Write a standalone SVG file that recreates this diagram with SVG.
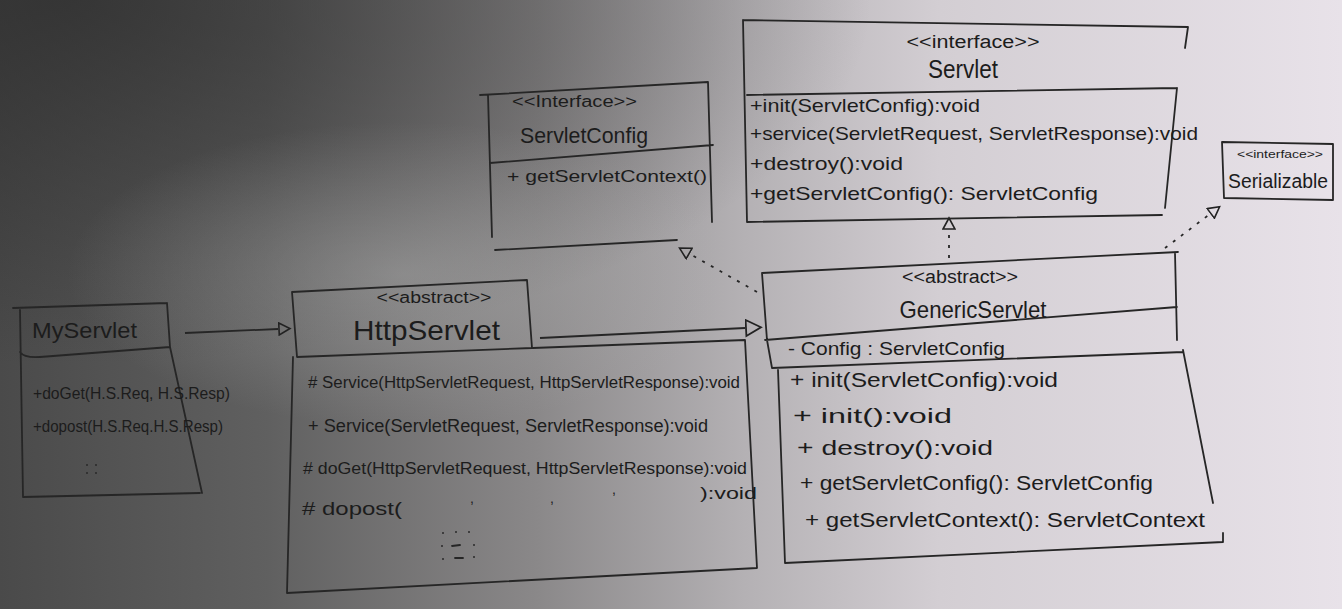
<svg xmlns="http://www.w3.org/2000/svg" width="1342" height="609" viewBox="0 0 1342 609">
<defs>
<linearGradient id="bg" x1="0" y1="0" x2="1" y2="0">
<stop offset="0" stop-color="#4a4a4a"/>
<stop offset="0.2" stop-color="#606060"/>
<stop offset="0.4" stop-color="#8a8889"/>
<stop offset="0.55" stop-color="#b3b0b3"/>
<stop offset="0.7" stop-color="#d3ced3"/>
<stop offset="1" stop-color="#e8e2e9"/>
</linearGradient>
<radialGradient id="dark" cx="0.05" cy="0" r="0.6">
<stop offset="0" stop-color="#2a2a2a" stop-opacity="0.7"/>
<stop offset="1" stop-color="#2a2a2a" stop-opacity="0"/>
</radialGradient>
<radialGradient id="glow" cx="0.3" cy="0.45" r="0.25">
<stop offset="0" stop-color="#b0b0b0" stop-opacity="0.45"/>
<stop offset="1" stop-color="#b0b0b0" stop-opacity="0"/>
</radialGradient>
<marker id="triBig" markerWidth="18" markerHeight="20" refX="0" refY="9" orient="auto" markerUnits="userSpaceOnUse">
<path d="M1,1 L16,9 L1,17 Z" fill="none" stroke="#222" stroke-width="1.8" stroke-dasharray="none"/>
</marker>
<marker id="triSmall" markerWidth="14" markerHeight="14" refX="0" refY="7" orient="auto" markerUnits="userSpaceOnUse">
<path d="M1,1 L12,7 L1,13 Z" fill="none" stroke="#222" stroke-width="1.6" stroke-dasharray="none"/>
</marker>
<style>
.ink{fill:none;stroke:#262626;stroke-width:1.8;stroke-linecap:round;stroke-linejoin:round}
.t{font-family:"Liberation Sans","DejaVu Sans",sans-serif;fill:#1c1c1c}
.c{text-anchor:middle}
.solid{fill:none;stroke:#262626;stroke-width:1.8}
.dash{fill:none;stroke:#262626;stroke-width:1.8;stroke-dasharray:3 7}
.dot{fill:#2a2a2a}
</style>
</defs>
<rect width="1342" height="609" fill="url(#bg)"/>
<rect width="1342" height="609" fill="url(#dark)"/>
<rect width="1342" height="609" fill="url(#glow)"/>

<g id="connectors">
<path class="solid" d="M185,333 L278,329" marker-end="url(#triSmall)"/>
<path class="solid" d="M540,338 L745,328" marker-end="url(#triBig)"/>
<path class="dash" d="M757,292 L690,254" marker-end="url(#triSmall)"/>
<path class="dash" d="M949,258 L949,230" marker-end="url(#triSmall)"/>
<path class="dash" d="M1165,248 L1210,214" marker-end="url(#triSmall)"/>
</g>

<g id="MyServlet">
<path class="ink" d="M13,308 L167,303 M20,310 L23,497 M167,303 L170,347 M20,352 Q24,358 40,357 L170,347 M170,347 L202,493 M23,497 L200,493"/>
<text class="t" x="32" y="338" font-size="22" textLength="105" lengthAdjust="spacingAndGlyphs">MyServlet</text>
<text class="t" x="33" y="399" font-size="16" textLength="197" lengthAdjust="spacingAndGlyphs">+doGet(H.S.Req, H.S.Resp)</text>
<text class="t" x="33" y="432" font-size="16" textLength="190" lengthAdjust="spacingAndGlyphs">+dopost(H.S.Req.H.S.Resp)</text>
<circle class="dot" cx="87" cy="465" r="1"/><circle class="dot" cx="96" cy="465" r="1"/>
<circle class="dot" cx="87" cy="473" r="1"/><circle class="dot" cx="96" cy="473" r="1"/>
</g>

<g id="HttpServlet">
<path class="ink" d="M292,292 L527,280 L532,348 L297,357 Z M293,357 L287,593 L757,568 L745,340 L533,348"/>
<text class="t c" x="434" y="303" font-size="16" textLength="115" lengthAdjust="spacingAndGlyphs">&lt;&lt;abstract&gt;&gt;</text>
<text class="t" x="353" y="340" font-size="28" textLength="147" lengthAdjust="spacingAndGlyphs">HttpServlet</text>
<text class="t" x="308" y="388" font-size="16" textLength="432" lengthAdjust="spacingAndGlyphs"># Service(HttpServletRequest, HttpServletResponse):void</text>
<text class="t" x="308" y="432" font-size="18" textLength="400" lengthAdjust="spacingAndGlyphs">+ Service(ServletRequest, ServletResponse):void</text>
<text class="t" x="303" y="474" font-size="16" textLength="444" lengthAdjust="spacingAndGlyphs"># doGet(HttpServletRequest, HttpServletResponse):void</text>
<text class="t" x="470" y="503" font-size="14">,</text>
<text class="t" x="550" y="503" font-size="14">,</text>
<text class="t" x="612" y="494" font-size="14">,</text>
<text class="t" x="700" y="499" font-size="17" textLength="57" lengthAdjust="spacingAndGlyphs">):void</text>
<text class="t" x="302" y="515" font-size="19" textLength="100" lengthAdjust="spacingAndGlyphs"># dopost(</text>
<circle class="dot" cx="443" cy="533" r="1"/><circle class="dot" cx="456" cy="532" r="1"/><circle class="dot" cx="469" cy="532" r="1"/>
<circle class="dot" cx="442" cy="546" r="1"/><path class="ink" d="M452,546 L460,545" stroke-width="1.2"/><circle class="dot" cx="474" cy="545" r="1"/>
<circle class="dot" cx="443" cy="559" r="1"/><path class="ink" d="M455,558 L463,558" stroke-width="1.2"/><circle class="dot" cx="474" cy="557" r="1"/>
</g>

<g id="ServletConfig">
<path class="ink" d="M480,95 L708,82 M488,95 L492,237 M708,82 L712,222 M490,163 L713,145 M495,250 L677,240"/>
<text class="t" x="512" y="107" font-size="16" textLength="125" lengthAdjust="spacingAndGlyphs">&lt;&lt;Interface&gt;&gt;</text>
<text class="t" x="520" y="143" font-size="22" textLength="128" lengthAdjust="spacingAndGlyphs">ServletConfig</text>
<text class="t" x="507" y="182" font-size="17" textLength="200" lengthAdjust="spacingAndGlyphs">+ getServletContext()</text>
</g>

<g id="Servlet">
<path class="ink" d="M743,20 L1188,27 L1185,48 M1177,88 L1165,208 M743,20 L747,222 L1162,215 M747,95 L1177,88"/>
<text class="t c" x="973" y="48" font-size="18" textLength="133" lengthAdjust="spacingAndGlyphs">&lt;&lt;interface&gt;&gt;</text>
<text class="t c" x="963" y="78" font-size="26" textLength="70" lengthAdjust="spacingAndGlyphs">Servlet</text>
<text class="t" x="750" y="112" font-size="19" textLength="230" lengthAdjust="spacingAndGlyphs">+init(ServletConfig):void</text>
<text class="t" x="750" y="140" font-size="19" textLength="448" lengthAdjust="spacingAndGlyphs">+service(ServletRequest, ServletResponse):void</text>
<text class="t" x="750" y="170" font-size="19" textLength="153" lengthAdjust="spacingAndGlyphs">+destroy():void</text>
<text class="t" x="750" y="200" font-size="19" textLength="348" lengthAdjust="spacingAndGlyphs">+getServletConfig(): ServletConfig</text>
</g>

<g id="Serializable">
<path class="ink" d="M1222,142 L1333,144 L1333,200 L1224,198 Z"/>
<text class="t c" x="1280" y="158" font-size="11" textLength="86" lengthAdjust="spacingAndGlyphs">&lt;&lt;interface&gt;&gt;</text>
<text class="t" x="1228" y="188" font-size="20" textLength="100" lengthAdjust="spacingAndGlyphs">Serializable</text>
</g>

<g id="GenericServlet">
<path class="ink" d="M762,273 L1178,252 M762,273 L767,340 M1175,253 L1177,340 M765,340 L1177,307 M767,340 L772,368 L1183,352 M778,370 L785,563 L1223,542 L1223,533 M1183,350 L1213,503"/>
<text class="t c" x="960" y="283" font-size="18" textLength="116" lengthAdjust="spacingAndGlyphs">&lt;&lt;abstract&gt;&gt;</text>
<text class="t c" x="973" y="318" font-size="24" textLength="147" lengthAdjust="spacingAndGlyphs">GenericServlet</text>
<text class="t" x="788" y="355" font-size="19" textLength="217" lengthAdjust="spacingAndGlyphs">- Config : ServletConfig</text>
<text class="t" x="790" y="387" font-size="20" textLength="268" lengthAdjust="spacingAndGlyphs">+ init(ServletConfig):void</text>
<text class="t" x="793" y="423" font-size="20" textLength="159" lengthAdjust="spacingAndGlyphs">+ init():void</text>
<text class="t" x="797" y="455" font-size="20" textLength="196" lengthAdjust="spacingAndGlyphs">+ destroy():void</text>
<text class="t" x="800" y="490" font-size="21" textLength="353" lengthAdjust="spacingAndGlyphs">+ getServletConfig(): ServletConfig</text>
<text class="t" x="805" y="527" font-size="21" textLength="400" lengthAdjust="spacingAndGlyphs">+ getServletContext(): ServletContext</text>
</g>
</svg>
